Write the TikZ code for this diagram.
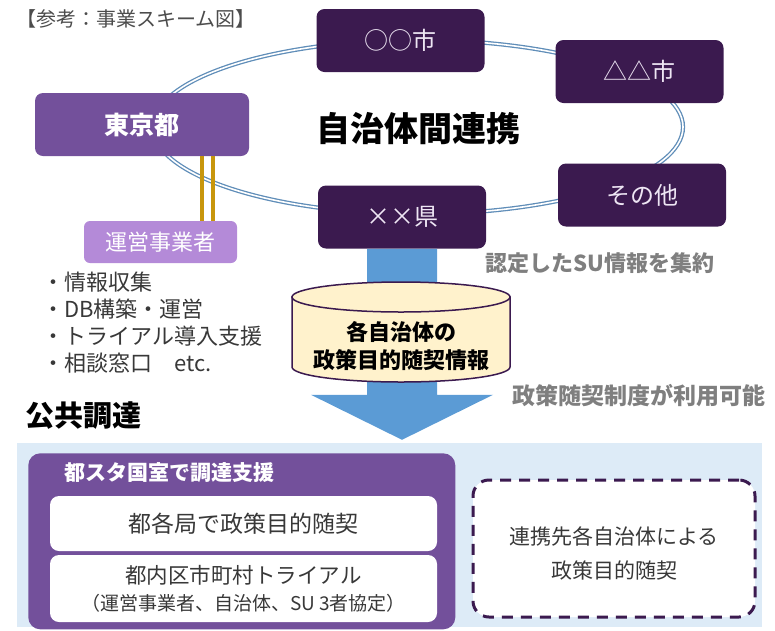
\documentclass[tikz,border=0pt]{standalone}
\usepackage{fontspec}
\setmainfont{Noto Sans CJK JP}
\usetikzlibrary{positioning}
\definecolor{cityfill}{HTML}{3B1A4F}
\definecolor{citytext}{HTML}{EEE6F4}
\definecolor{tofill}{HTML}{73509B}
\definecolor{opfill}{HTML}{B48AD8}
\definecolor{ringblue}{HTML}{5F8DB8}
\definecolor{goldline}{HTML}{C8960C}
\definecolor{arrowblue}{HTML}{5B9BD5}
\definecolor{dbfill}{HTML}{FFF2CC}
\definecolor{bgblue}{HTML}{DDEBF7}
\definecolor{notegray}{HTML}{7F7F7F}
\definecolor{textgray}{HTML}{383838}
\newcommand{\fsz}[2]{\fontsize{#1}{#2}\selectfont}
\tikzset{
    every node/.style={inner sep=0pt},
    city node/.style={rounded corners=8pt,fill=cityfill,text=citytext,minimum width=168pt,minimum height=63pt,font=\fsz{24}{28}},
    tokyo node/.style={rounded corners=8pt,fill=tofill,text=white,minimum width=214pt,minimum height=63pt,font=\bfseries\fsz{25}{28}},
    op node/.style={rounded corners=6pt,fill=opfill,text=white,minimum width=153pt,minimum height=42pt,font=\fsz{22}{26}},
    note text/.style={anchor=west,text=notegray,font=\bfseries\fsz{22}{26}},
    inner box/.style={rounded corners=9pt,fill=white,text=textgray,minimum width=387pt,align=center},
    ring/.style={draw=ringblue,double=white,double distance=1.6pt,line width=1.3pt},
    gold line/.style={draw=goldline,line width=3.5pt},
    db/.style={fill=dbfill,draw=cityfill,line width=1.5pt}
}

\begin{document}
\begin{tikzpicture}[
            x = 1pt, y = -1pt, % pixel grid, y downwards
            semithick
        ]
        \useasboundingbox (0,0) rectangle (775,630);

        \node[anchor=west,text=textgray!90,font=\fsz{20}{22}] (title) at (16,19) {【参考：事業スキーム図】};

        % ring of municipalities
        \draw[ring] (418,127) ellipse [x radius=265, y radius=87];

        \node[tokyo node] (tokyo) at (142,124.5) {東京都};
        \node[city node] (cityA) at (400.5,40.5) {○○市};
        \node[city node] (cityB) at (639.5,71.5) {△△市};
        \node[city node] (other) at (642,195) {その他};
        \node[city node] (pref) at (402,217) {××県};
        \node[font=\bfseries\fsz{34}{38}] (link) at (418,129) {自治体間連携};

        % operator
        \node[op node] (operator) at (160.5,242) {運営事業者};
        \coordinate (g1) at (202,0);
        \coordinate (g2) at (213,0);
        \draw[gold line] (tokyo.south -| g1) -- (operator.north -| g1);
        \draw[gold line] (tokyo.south -| g2) -- (operator.north -| g2);

        \node[anchor=west,align=left,text=textgray,font=\fsz{22}{27}] (tasks) at (42,323)
            {・情報収集\\・DB構築・運営\\・トライアル導入支援\\・相談窓口　etc.};

        % big arrow and database
        \fill[arrowblue] ([xshift=-35pt]pref.south) -- ++(70,0) -- ++(0,146) -- ++(56,0)
            -- ++(-91,45) -- ++(-91,-45) -- ++(56,0) -- cycle;
        \filldraw[db] (292,297) -- (292,367) arc[start angle=180, end angle=0, x radius=109, y radius=15] -- (510,297) -- cycle;
        \filldraw[db] (401,297) ellipse [x radius=109, y radius=15];
        \node[align=center,font=\bfseries\fsz{22}{28}] (dbtext) at (401,346) {各自治体の\\政策目的随契情報};

        \node[note text] (collect) at (485,263) {認定したSU情報を集約};
        \node[note text,font=\bfseries\fsz{23}{26}] (usable) at (512,396) {政策随契制度が利用可能};

        \node[anchor=west,font=\bfseries\fsz{29}{32}] (proc) at (25,416) {公共調達};

        % procurement area
        \node[fill=bgblue,minimum width=745pt,minimum height=184pt,anchor=north west] (procarea) at (17,443) {};
        \node[fill=tofill,rounded corners=12pt,minimum width=427pt,minimum height=176pt,anchor=north west] (support) at (28,453) {};
        \node[anchor=west,text=white,font=\bfseries\fsz{21}{24}] (supporttitle) at (64,473) {都スタ国室で調達支援};
        \node[inner box,minimum height=55pt,font=\fsz{23}{27}] (bureau) at (243.5,523.5) {都各局で政策目的随契};
        \node[inner box,minimum height=67pt,font=\fsz{21.5}{27}] (trial) at (243.5,588.5)
            {都内区市町村トライアル\\{\fsz{19}{27}（運営事業者、自治体、SU 3者協定）}};
        \node[draw=cityfill,fill=white,dashed,dash pattern=on 11pt off 8pt,line width=3pt,rounded corners=16pt,
            minimum width=282pt,minimum height=137pt] (partner) at (614,548.5) {};
        \node[align=center,text=textgray,font=\fsz{21}{34}] (partnertext) at (614,553)
            {連携先各自治体による\\政策目的随契};

\end{tikzpicture}
\end{document}
